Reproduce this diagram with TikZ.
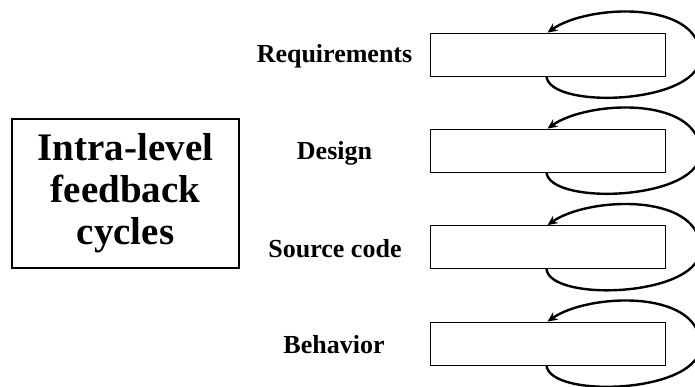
\documentclass[tikz,border=0pt]{standalone}
\usepackage{fontspec}
\setmainfont{Liberation Serif}
\usetikzlibrary{arrows.meta}
\tikzset{
  level/.style={draw, line width=0.8pt, minimum width=235pt, minimum height=43pt, inner sep=0pt},
  lbl/.style={anchor=base, inner sep=0pt, font=\fontsize{26}{30}\selectfont\bfseries},
  loopline/.style={line width=2.4pt, -{Stealth[length=10pt,width=9pt]}},
  titlebox/.style={draw, line width=2.4pt, minimum width=227pt, minimum height=149pt, align=center, inner sep=0pt, font=\fontsize{39}{42}\selectfont\bfseries}
}
\begin{document}
\begin{tikzpicture}[x=1pt,y=-1pt]
\useasboundingbox (0,0) rectangle (695,387);
\node[titlebox] (t) at (125.5,193.5) {Intra-level\\feedback\\cycles};
\node[lbl] (l1) at (334.5,63) {Requirements};
\node[lbl] (l2) at (334.5,160) {Design};
\node[lbl] (l3) at (335,257) {Source code};
\node[lbl] (l4) at (334,353) {Behavior};
\node[level] (b1) at (547.5,54.5) {};
\node[level] (b2) at (547.5,150.5) {};
\node[level] (b3) at (547.5,247) {};
\node[level] (b4) at (547.5,343.5) {};
\begin{scope}
\clip (0,0) rectangle (695,387);
\foreach \b in {b1,b2,b3,b4}{
  \draw[loopline] ([xshift=-1pt]\b.south) .. controls +(3,34) and +(4,50) .. ([xshift=35pt]\b.east)
     .. controls +(-3,-55) and +(40,-28) .. (\b.north);
}
\end{scope}
\end{tikzpicture}
\end{document}
